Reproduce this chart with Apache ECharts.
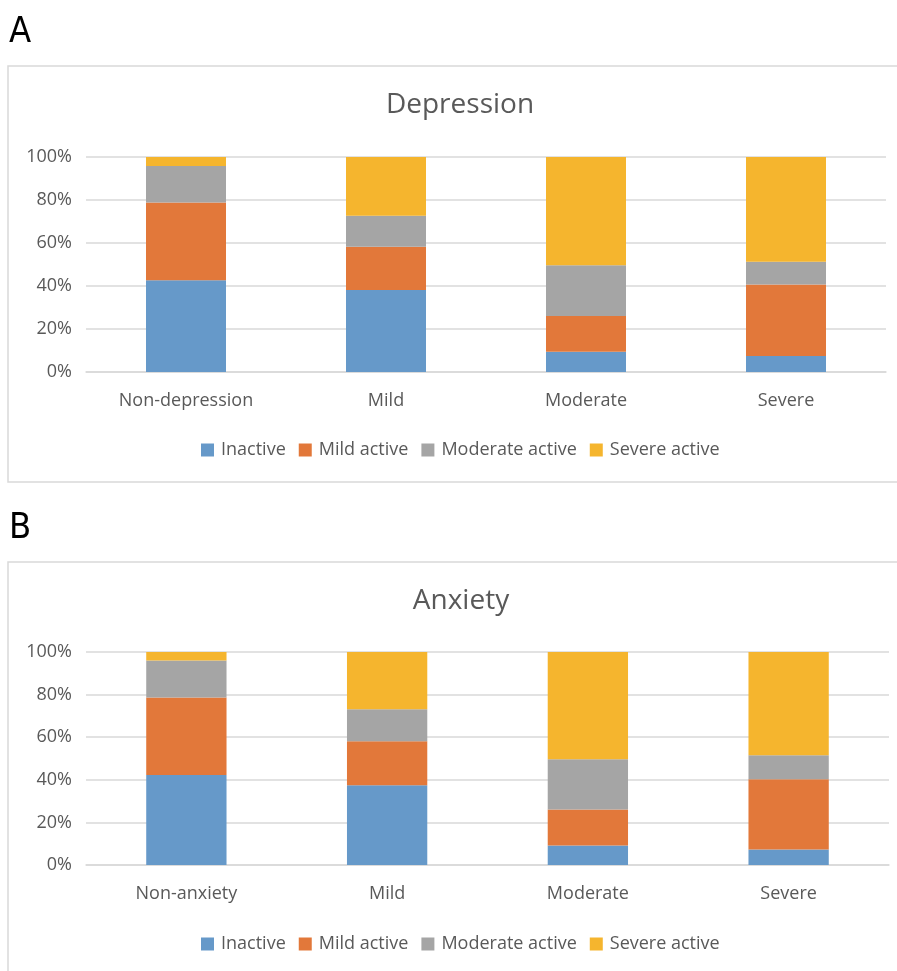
<!DOCTYPE html>
<html>
<head>
<meta charset="utf-8">
<script src="https://cdn.jsdelivr.net/npm/echarts@6/dist/echarts.min.js"></script>
<style>
html,body{margin:0;padding:0;background:#fff;}
#c{width:897px;height:971px;}
</style>
</head>
<body>
<div id="c"></div>
<script>
const depCategories = ['Non-depression', 'Mild', 'Moderate', 'Severe'];
const anxCategories = ['Non-anxiety', 'Mild', 'Moderate', 'Severe'];
const seriesNames = ['Inactive', 'Mild active', 'Moderate active', 'Severe active'];
const yTicks = [0, 20, 40, 60, 80, 100];

const depInactive = [42.7, 38.1, 9.4, 7.5];
const depMild = [36.1, 20.2, 16.7, 33.2];
const depModerate = [17.0, 14.4, 23.5, 10.6];
const depSevere = [4.2, 27.3, 50.4, 48.7];

const anxInactive = [42.2, 37.5, 9.2, 7.3];
const anxMild = [36.4, 20.6, 16.8, 33.0];
const anxModerate = [17.4, 15.0, 23.7, 11.2];
const anxSevere = [4.0, 26.9, 50.3, 48.5];

const colors = ['#6699C9', '#E2783A', '#A5A5A5', '#F5B52E'];
const FONT = '"Open Sans", "Noto Sans", sans-serif';
const TXT = '#595959';

const depData = [depInactive, depMild, depModerate, depSevere];
const anxData = [anxInactive, anxMild, anxModerate, anxSevere];

function mkSeries(dataSets, idx, stack) {
  return dataSets.map((d, i) => ({
    name: seriesNames[i],
    type: 'bar',
    stack: stack,
    xAxisIndex: idx,
    yAxisIndex: idx,
    barWidth: '40%',
    itemStyle: { color: colors[i] },
    emphasis: { disabled: true },
    data: d
  }));
}

function mkX(cats, idx) {
  return {
    type: 'category',
    gridIndex: idx,
    data: cats,
    axisLine: { show: true, lineStyle: { color: '#d9d9d9', width: 1.5 } },
    axisTick: { show: false },
    axisLabel: { color: TXT, fontFamily: FONT, fontSize: 18, margin: 20 }
  };
}
function mkY(idx) {
  return {
    type: 'value',
    gridIndex: idx,
    min: yTicks[0],
    max: yTicks[yTicks.length - 1],
    interval: yTicks[1] - yTicks[0],
    axisLine: { show: false },
    axisTick: { show: false },
    splitLine: { lineStyle: { color: '#d9d9d9', width: 1.5 } },
    axisLabel: { color: TXT, fontFamily: FONT, fontSize: 18, margin: 14, formatter: '{value}%' }
  };
}
function mkLegend(top) {
  return {
    top: top,
    left: 196,
    itemWidth: 13,
    itemHeight: 13,
    itemGap: 13,
    icon: 'rect',
    selectedMode: false,
    textStyle: { color: TXT, fontFamily: FONT, fontSize: 18, padding: [0, 0, 0, 2] },
    data: seriesNames
  };
}

const chart = echarts.init(document.getElementById('c'), null, { renderer: 'canvas' });
chart.setOption({
  animation: false,
  backgroundColor: '#fff',
  graphic: [
    { type: 'rect', shape: { x: 8, y: 66, width: 940, height: 416 }, style: { fill: 'none', stroke: '#d9d9d9', lineWidth: 1.5 }, z: -1 },
    { type: 'rect', shape: { x: 8, y: 562, width: 940, height: 440 }, style: { fill: 'none', stroke: '#d9d9d9', lineWidth: 1.5 }, z: -1 },
    { type: 'text', left: 9, top: 15, style: { text: 'A', fontFamily: '"Liberation Sans Narrow", "DejaVu Sans Condensed", sans-serif', fontSize: 36, fill: '#000' } },
    { type: 'text', left: 9, top: 511, style: { text: 'B', fontFamily: '"Liberation Sans Narrow", "DejaVu Sans Condensed", sans-serif', fontSize: 36, fill: '#000' } }
  ],
  title: [
    { text: 'Depression', left: 455, top: 86, textAlign: 'center', textStyle: { color: TXT, fontFamily: FONT, fontSize: 28, fontWeight: 'normal' } },
    { text: 'Anxiety', left: 456, top: 582, textAlign: 'center', textStyle: { color: TXT, fontFamily: FONT, fontSize: 28, fontWeight: 'normal' } }
  ],
  legend: [mkLegend(436), mkLegend(930)],
  grid: [
    { left: 86, right: 11, top: 157, height: 215 },
    { left: 86, right: 8, top: 652, height: 213 }
  ],
  xAxis: [mkX(depCategories, 0), mkX(anxCategories, 1)],
  yAxis: [mkY(0), mkY(1)],
  series: mkSeries(depData, 0, 'dep').concat(mkSeries(anxData, 1, 'anx'))
});
</script>
</body>
</html>
